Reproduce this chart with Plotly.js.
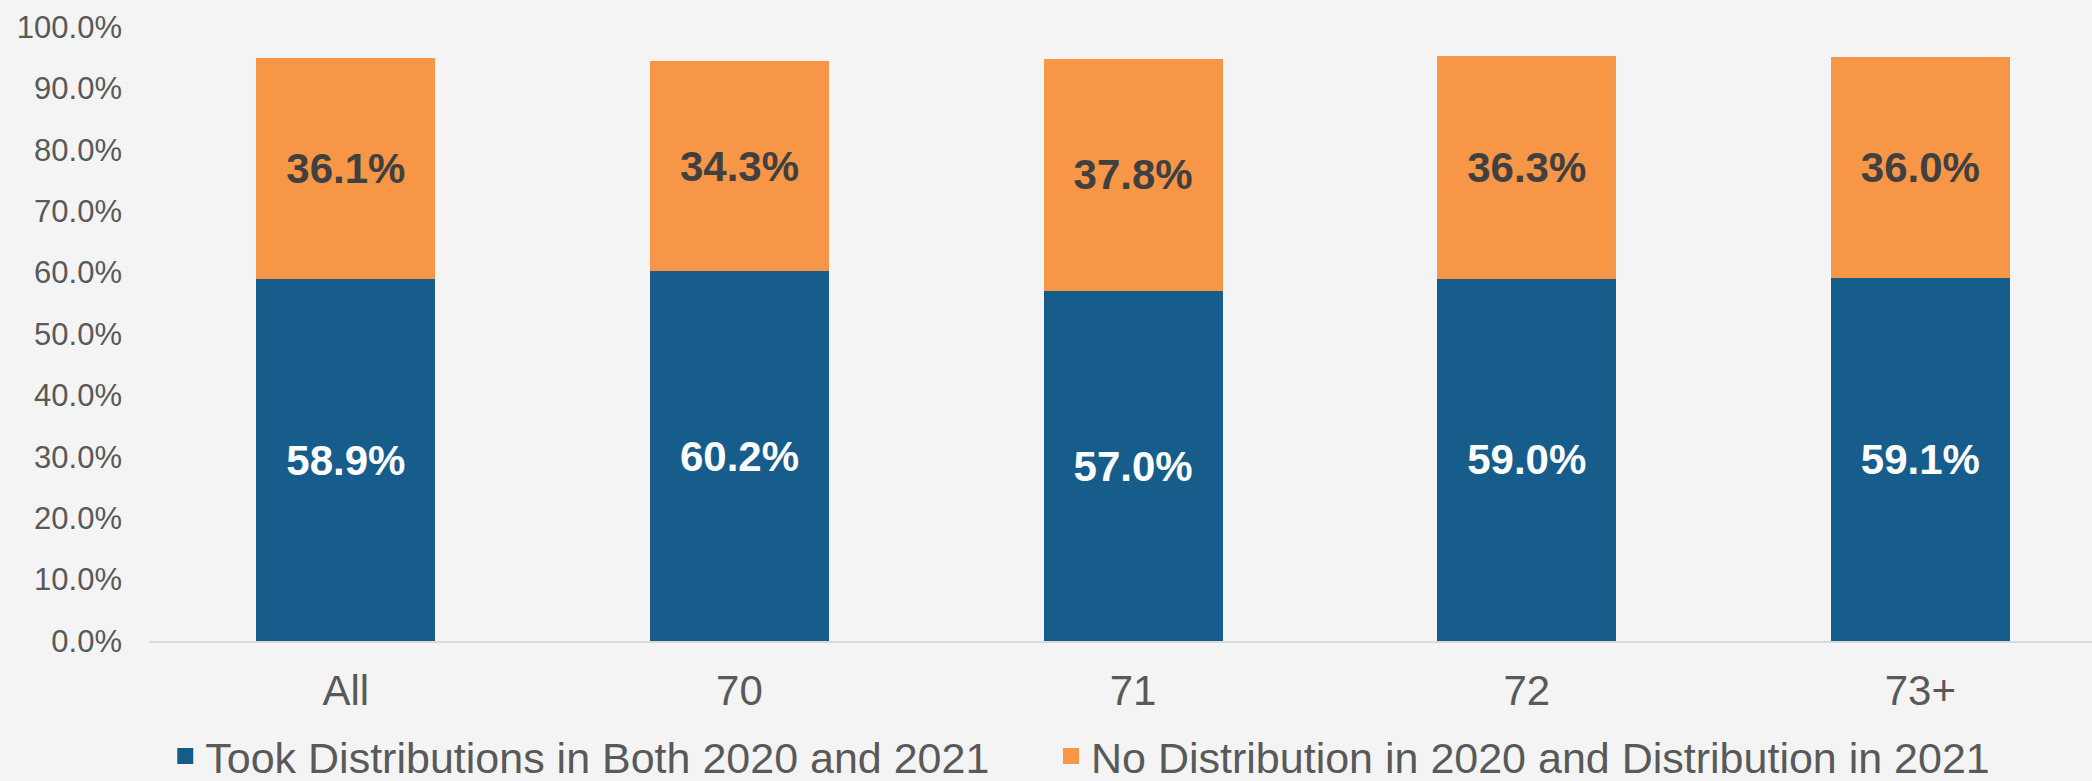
<!DOCTYPE html>
<html>
<head>
<meta charset="utf-8">
<script src="https://cdn.plot.ly/plotly-3.0.1.min.js"></script>
<style>html,body{margin:0;padding:0;background:#f4f4f4;}</style>
</head>
<body>
<div id="chart" style="width:2092px;height:781px;"></div>
<script>
const categories = ["All", "70", "71", "72", "73+"];
const seriesNames = ["Took Distributions in Both 2020 and 2021", "No Distribution in 2020 and Distribution in 2021"];
const tookBoth = [58.9, 60.2, 57.0, 59.0, 59.1];
const noDist2020 = [36.1, 34.3, 37.8, 36.3, 36.0];
const yTickValues = [0, 10, 20, 30, 40, 50, 60, 70, 80, 90, 100];
const yTickLabels = ["0.0%", "10.0%", "20.0%", "30.0%", "40.0%", "50.0%", "60.0%", "70.0%", "80.0%", "90.0%", "100.0%"];

const FONT = '"Liberation Sans", Arial, sans-serif';
const BLUE = '#175D8C';
const ORANGE = '#F79646';

const traces = [
  {
    type: 'bar', x: categories, y: tookBoth, name: seriesNames[0], showlegend: false,
    marker: {color: BLUE},
    texttemplate: '%{y:.1f}%', textposition: 'inside', insidetextanchor: 'middle',
    textfont: {family: FONT, size: 42, color: '#ffffff', weight: 'bold'},
    constraintext: 'none', hoverinfo: 'skip'
  },
  {
    type: 'bar', x: categories, y: noDist2020, name: seriesNames[1], showlegend: false,
    marker: {color: ORANGE},
    texttemplate: '%{y:.1f}%', textposition: 'inside', insidetextanchor: 'middle',
    textfont: {family: FONT, size: 42, color: '#404040', weight: 'bold'},
    constraintext: 'none', hoverinfo: 'skip'
  },
  {
    type: 'scatter', mode: 'markers', x: [null], y: [null], name: seriesNames[0],
    marker: {symbol: 'square', size: 16, color: BLUE}, showlegend: true, legend: 'legend'
  },
  {
    type: 'scatter', mode: 'markers', x: [null], y: [null], name: seriesNames[1],
    marker: {symbol: 'square', size: 16, color: ORANGE}, showlegend: true, legend: 'legend2'
  }
];

const legendBase = {
  orientation: 'h', xref: 'container', yref: 'container',
  xanchor: 'left', y: 0.032, yanchor: 'middle',
  font: {family: FONT, size: 43, color: '#595959'},
  bgcolor: 'rgba(0,0,0,0)', itemclick: false, itemdoubleclick: false
};

const layout = {
  width: 2092, height: 781,
  paper_bgcolor: '#f4f4f4', plot_bgcolor: '#f4f4f4',
  barmode: 'stack', bargap: 0.545,
  margin: {l: 149, r: 0, t: 27, b: 139.5, autoexpand: false},
  font: {family: FONT, color: '#595959'},
  xaxis: {
    type: 'category', categoryorder: 'array', categoryarray: categories,
    range: [-0.5, 4.436],
    showline: true, linecolor: '#d9d9d9', linewidth: 2,
    showgrid: false, zeroline: false, ticks: '',
    tickfont: {family: FONT, size: 42, color: '#595959'},
    ticklabelstandoff: 12
  },
  yaxis: {
    range: [0, 100], tickmode: 'array', tickvals: yTickValues, ticktext: yTickLabels,
    showgrid: false, zeroline: false, showline: false, ticks: '',
    tickfont: {family: FONT, size: 31, color: '#595959'},
    ticklabelstandoff: 26
  },
  showlegend: true,
  legend: Object.assign({}, legendBase, {x: 0.079}),
  legend2: Object.assign({}, legendBase, {x: 0.5024})
};

Plotly.newPlot('chart', traces, layout, {displayModeBar: false, staticPlot: true});
</script>
</body>
</html>
